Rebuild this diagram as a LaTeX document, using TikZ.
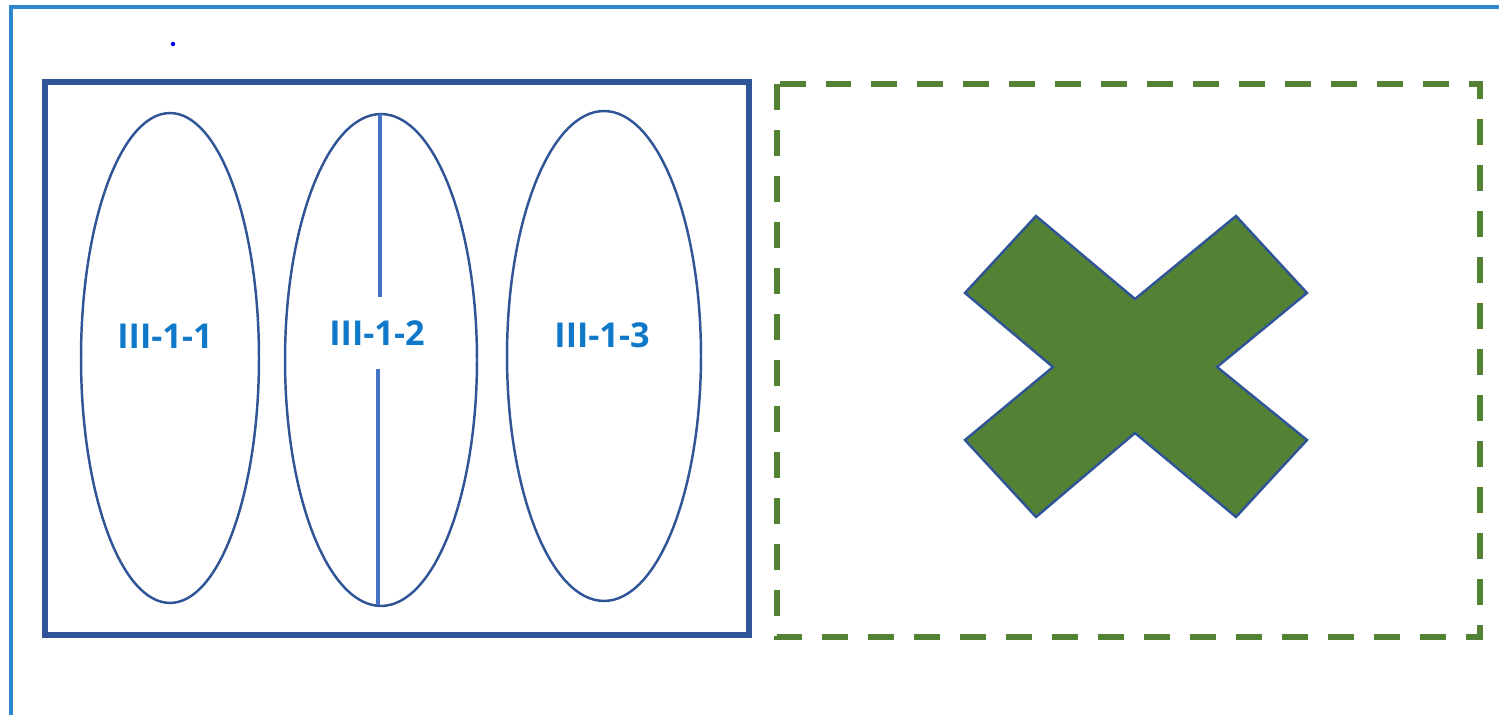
\documentclass[tikz,border=0pt]{standalone}
\usepackage{fontspec}
\setmainfont{Open Sans}
\usepackage{xcolor}
\definecolor{framebl}{HTML}{2E86CF}
\definecolor{darkbl}{HTML}{2F5597}
\definecolor{midbl}{HTML}{4472C4}
\definecolor{textbl}{HTML}{0F78C8}
\definecolor{leafgr}{HTML}{548235}
\tikzset{
  lbl/.style={font=\fontsize{19.5}{22}\selectfont\bfseries, text=textbl, inner sep=0pt},
  pod/.style={draw=darkbl, line width=1.4pt}
}
\begin{document}
\begin{tikzpicture}[x=0.02cm, y=-0.02cm]

\useasboundingbox (0,0) rectangle (1499,715);

\draw [framebl, line width=1.8pt] (11,720) -- (11,7) -- (1505,7);
\fill [blue] (173,44) circle (0.045cm);

\draw [darkbl, line width=3.6pt] (45,82) rectangle (749,635);

\draw [pod] (170,358) ellipse [x radius=1.78cm, y radius=4.9cm];
\draw [pod] (381,360) ellipse [x radius=1.92cm, y radius=4.92cm];
\draw [pod] (604,356) ellipse [x radius=1.94cm, y radius=4.9cm];

\node [lbl] (t1) at (165,336) {III-1-1};
\node [lbl, minimum height=1.44cm] (t2) at (377,333) {III-1-2};
\node [lbl] (t3) at (602,335) {III-1-3};

\coordinate (mtop) at (380,114);
\coordinate (mbot) at (378,605);
\draw [midbl, line width=2.8pt] (mtop) -- (mtop |- t2.north);
\draw [midbl, line width=2.8pt] (mbot |- t2.south) -- (mbot);

\draw [leafgr, line width=3.6pt, dash pattern=on 0.52cm off 0.4cm] (777,84) rectangle (1480,637);

\draw [darkbl, fill=leafgr, line width=1.4pt, line join=miter]
  (1036,216) -- (1135,299) -- (1236,216) -- (1307,293) -- (1217,367)
  -- (1307,440) -- (1236,517) -- (1135,433) -- (1036,517) -- (965,440)
  -- (1053,367) -- (965,293) -- cycle;

\end{tikzpicture}
\end{document}
